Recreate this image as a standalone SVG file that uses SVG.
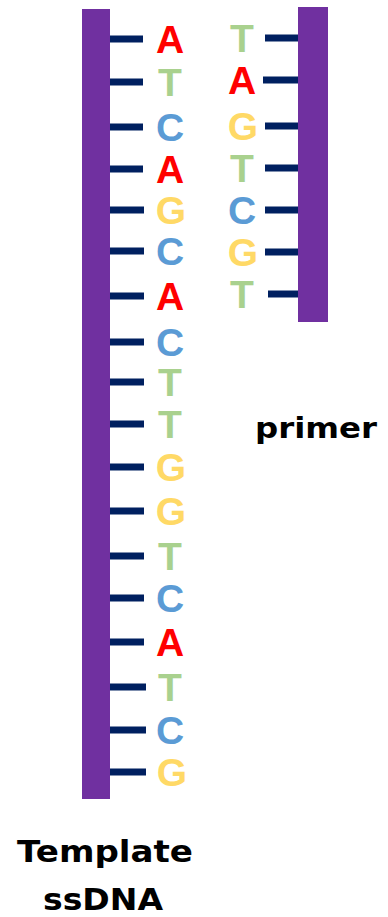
<svg xmlns="http://www.w3.org/2000/svg" width="388" height="917" viewBox="0 0 388 917">
  <style>
    .strand { fill: #7030A0; }
    .tick { stroke: #002060; stroke-width: 7; }
    .base { font-family: "Liberation Sans", Arial, sans-serif; font-weight: bold; font-size: 39px; text-anchor: middle; }
    .A { fill: #FF0000; }
    .T { fill: #A9D18E; }
    .C { fill: #5B9BD5; }
    .G { fill: #FFD966; }
    .label { font-family: "DejaVu Sans", "Liberation Sans", sans-serif; font-weight: bold; fill: #000; text-anchor: middle; }
  </style>

  <!-- template strand -->
  <g id="template">
    <rect class="strand" x="82" y="9" width="28" height="790"/>
    <g id="template-bonds">
      <line class="tick" x1="110" y1="39" x2="143" y2="39"/>
      <line class="tick" x1="110" y1="82" x2="143" y2="82"/>
      <line class="tick" x1="110" y1="127" x2="143" y2="127"/>
      <line class="tick" x1="110" y1="169" x2="143" y2="169"/>
      <line class="tick" x1="110" y1="210" x2="144" y2="210"/>
      <line class="tick" x1="110" y1="251" x2="144" y2="251"/>
      <line class="tick" x1="110" y1="296" x2="144" y2="296"/>
      <line class="tick" x1="110" y1="342" x2="144" y2="342"/>
      <line class="tick" x1="110" y1="382" x2="144" y2="382"/>
      <line class="tick" x1="110" y1="424" x2="144" y2="424"/>
      <line class="tick" x1="110" y1="467" x2="144" y2="467"/>
      <line class="tick" x1="110" y1="511" x2="144" y2="511"/>
      <line class="tick" x1="110" y1="556" x2="144" y2="556"/>
      <line class="tick" x1="110" y1="598" x2="144" y2="598"/>
      <line class="tick" x1="110" y1="642" x2="144" y2="642"/>
      <line class="tick" x1="110" y1="687" x2="146" y2="687"/>
      <line class="tick" x1="110" y1="730" x2="146" y2="730"/>
      <line class="tick" x1="110" y1="772" x2="146" y2="772"/>
    </g>
    <g id="template-bases" class="base">
      <text class="A" x="170" y="53">A</text>
      <text class="T" x="170" y="96">T</text>
      <text class="C" x="170" y="141">C</text>
      <text class="A" x="170" y="183">A</text>
      <text class="G" x="171" y="224">G</text>
      <text class="C" x="170" y="265">C</text>
      <text class="A" x="170" y="310">A</text>
      <text class="C" x="170" y="356">C</text>
      <text class="T" x="170" y="396">T</text>
      <text class="T" x="170" y="438">T</text>
      <text class="G" x="171" y="481">G</text>
      <text class="G" x="171" y="525">G</text>
      <text class="T" x="170" y="570">T</text>
      <text class="C" x="170" y="612">C</text>
      <text class="A" x="170" y="656">A</text>
      <text class="T" x="170" y="701">T</text>
      <text class="C" x="170" y="744">C</text>
      <text class="G" x="172" y="786">G</text>
    </g>
  </g>

  <!-- primer strand -->
  <g id="primer">
    <rect class="strand" x="298" y="7" width="30" height="315"/>
    <g id="primer-bonds">
      <line class="tick" x1="265" y1="38" x2="298" y2="38"/>
      <line class="tick" x1="263" y1="80" x2="298" y2="80"/>
      <line class="tick" x1="265" y1="126" x2="298" y2="126"/>
      <line class="tick" x1="265" y1="168" x2="298" y2="168"/>
      <line class="tick" x1="265" y1="210" x2="298" y2="210"/>
      <line class="tick" x1="265" y1="252" x2="298" y2="252"/>
      <line class="tick" x1="268" y1="294" x2="298" y2="294"/>
    </g>
    <g id="primer-bases" class="base">
      <text class="T" x="242" y="52">T</text>
      <text class="A" x="242" y="94">A</text>
      <text class="G" x="243" y="140">G</text>
      <text class="T" x="242" y="182">T</text>
      <text class="C" x="242" y="224">C</text>
      <text class="G" x="243" y="266">G</text>
      <text class="T" x="242" y="308">T</text>
    </g>
  </g>

  <!-- labels -->
  <g id="labels">
    <text class="label" x="316" y="438" font-size="28" textLength="122" lengthAdjust="spacingAndGlyphs">primer</text>
    <text class="label" x="105" y="862" font-size="31" textLength="176" lengthAdjust="spacingAndGlyphs">Template</text>
    <text class="label" x="103" y="910" font-size="31" textLength="120" lengthAdjust="spacingAndGlyphs">ssDNA</text>
  </g>
</svg>
